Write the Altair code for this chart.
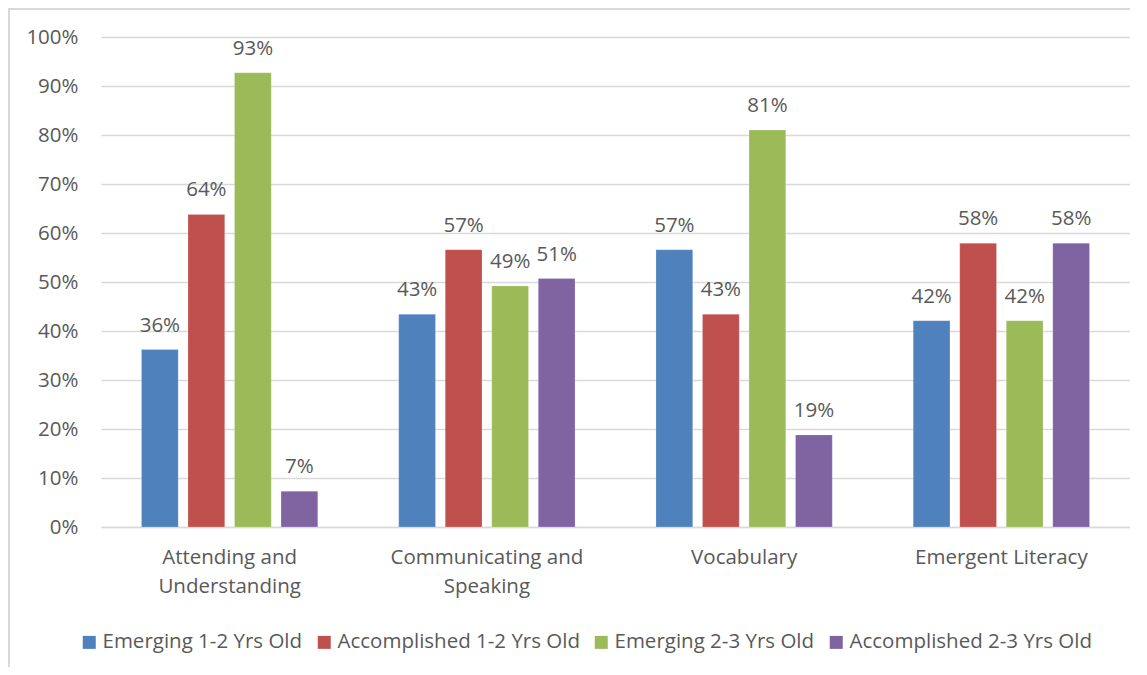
import altair as alt
import pandas as pd

categories = ["Attending and Understanding", "Communicating and Speaking", "Vocabulary", "Emergent Literacy"]
series = ["Emerging 1-2 Yrs Old", "Accomplished 1-2 Yrs Old", "Emerging 2-3 Yrs Old", "Accomplished 2-3 Yrs Old"]
colors = ["#4F81BD", "#C0504D", "#9BBB59", "#8064A2"]
emerging_12 = [0.362, 0.434, 0.566, 0.421]
accomplished_12 = [0.638, 0.566, 0.434, 0.579]
emerging_23 = [0.927, 0.492, 0.810, 0.421]
accomplished_23 = [0.073, 0.507, 0.188, 0.579]

rows = []
for s, vals in zip(series, [emerging_12, accomplished_12, emerging_23, accomplished_23]):
    for c, v in zip(categories, vals):
        rows.append({"category": c, "series": s, "value": v})
df = pd.DataFrame(rows)

FONT = "Open Sans"
TXT = "#595959"
FS = 20.5

x = alt.X("category:N", sort=categories, title=None,
          scale=alt.Scale(paddingInner=0, paddingOuter=0),
          axis=alt.Axis(labelAngle=0, labelFontSize=FS, labelColor=TXT, labelFont=FONT,
                        labelPadding=20, ticks=False, domainColor="#D9D9D9", domainWidth=1.5,
                        labelLineHeight=29, labelLimit=0,
                        labelExpr="split(replace(datum.label, ' and ', ' and|'), '|')"))
xo = alt.XOffset("series:N", sort=series,
                 scale=alt.Scale(paddingInner=0.21, paddingOuter=0.87))

bars = alt.Chart(df).mark_bar(stroke="white", strokeOpacity=0.4, strokeWidth=0.5).encode(
    x=x, xOffset=xo,
    y=alt.Y("value:Q", title=None,
            scale=alt.Scale(domain=[0, 1]),
            axis=alt.Axis(format=".0%", values=[i / 10 for i in range(11)], labelFontSize=FS,
                          labelColor=TXT, labelFont=FONT, labelPadding=23, ticks=False,
                          domain=False, gridColor="#D9D9D9", gridWidth=1.5)),
    color=alt.Color("series:N", sort=series, scale=alt.Scale(domain=series, range=colors),
                    legend=alt.Legend(title=None, orient="none", direction="horizontal",
                                      legendX=-22, legendY=595, symbolType="square",
                                      symbolSize=169, symbolStrokeWidth=0, labelFontSize=FS,
                                      labelFont=FONT, labelColor=TXT, columnPadding=11,
                                      labelOffset=3, labelLimit=0)),
)

labels = alt.Chart(df).mark_text(baseline="bottom", dy=-14, fontSize=FS, font=FONT, color=TXT).encode(
    x=x, xOffset=xo,
    y=alt.Y("value:Q"),
    text=alt.Text("value:Q", format=".0%"),
)

border_top = alt.Chart(df).mark_rule(color="#D9D9D9", strokeWidth=1.5).encode(
    x=alt.value(-93), x2=alt.value(1040), y=alt.value(-28))
border_left = alt.Chart(df).mark_rule(color="#D9D9D9", strokeWidth=1.5).encode(
    x=alt.value(-92), y=alt.value(-29), y2=alt.value(632))

chart = (bars + labels + border_top + border_left).properties(
    width=1029, height=490,
    autosize=alt.AutoSizeParams(type="none"),
    padding={"left": 93, "top": 29, "right": 0, "bottom": 140},
).configure_view(stroke=None)

chart.save("out.html", embed_options={"renderer": "svg", "actions": False})
